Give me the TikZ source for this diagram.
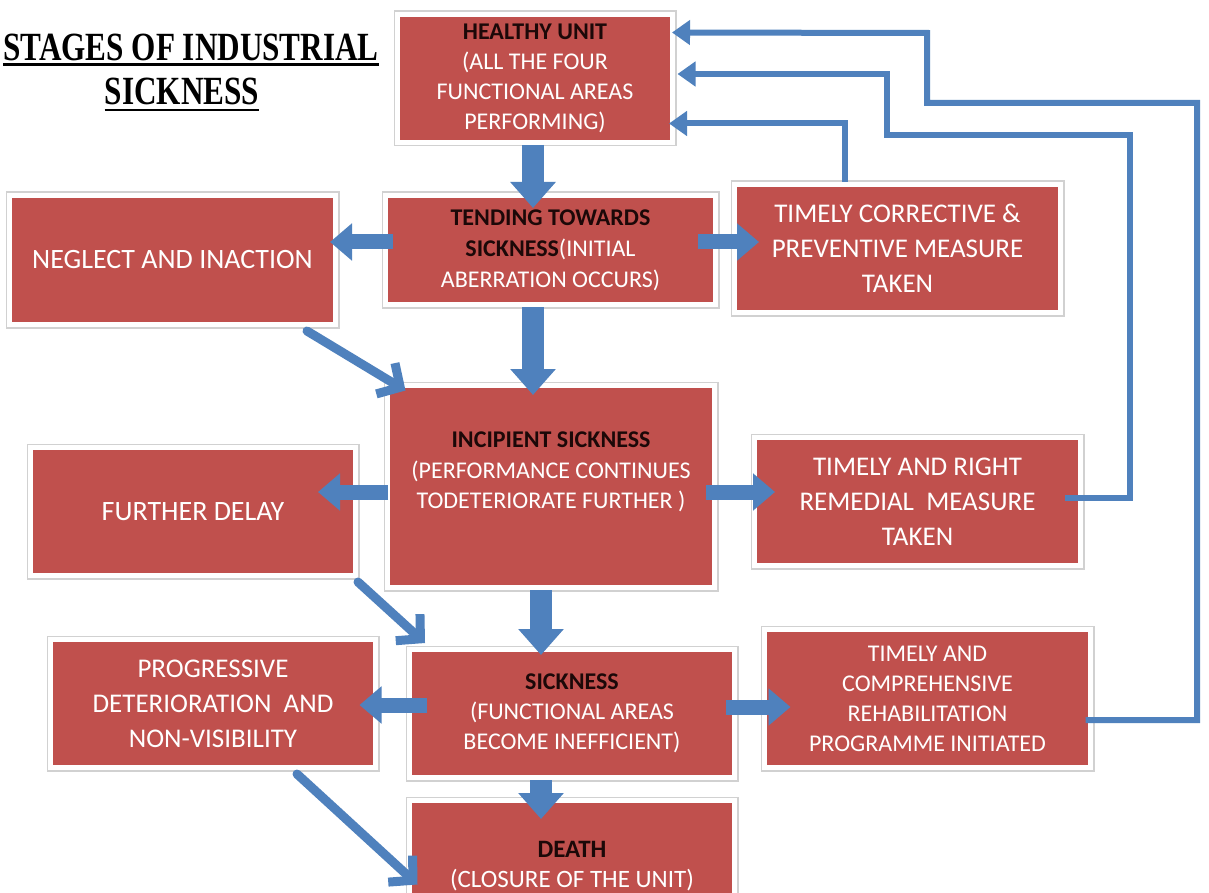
\documentclass[tikz,border=0pt]{standalone}
\usepackage{fontspec}
\setmainfont{Carlito}
\newfontfamily\titlefont[FakeStretch=0.78]{Liberation Serif}
\usetikzlibrary{arrows.meta,calc}
\definecolor{boxred}{HTML}{C0504D}
\definecolor{arrowblue}{HTML}{4F81BD}
\definecolor{textdark}{HTML}{1C0808}
\tikzset{
  box/.style={rectangle, fill=boxred, draw=white, line width=5pt,
    preaction={draw=black!18, line width=8pt}, text=white, align=center, inner sep=0pt},
  titletext/.style={font=\titlefont\bfseries\fontsize{40}{45}\selectfont, inner sep=0pt},
  mainarrow/.style={arrowblue, line width=22pt, -{Triangle[width=44pt,length=26pt]}},
  sidearrow/.style={arrowblue, line width=15pt, -{Triangle[width=36pt,length=22pt]}},
  slantarrow/.style={arrowblue, line width=9pt, line cap=round, -{Straight Barb[width=36pt,length=17pt]}},
  backline/.style={arrowblue, line width=6pt, -{Triangle[width=24pt,length=18pt]}},
}
\begin{document}
\begin{tikzpicture}[x=1pt,y=-1pt]
\useasboundingbox[fill=white] (0,0) rectangle (1209,893);

% title
\node[titletext, anchor=base west] (title1) at (3,61) {STAGES OF INDUSTRIAL};
\node[titletext, anchor=base] (title2) at (182,105) {SICKNESS};
\draw[line width=2.5pt] ($(title1.base west)+(0,3.5)$) -- ($(title1.base east)+(0,3.5)$);
\draw[line width=2.5pt] ($(title2.base west)+(0,5)$) -- ($(title2.base east)+(0,5)$);

% stages down the middle
\node[box, minimum width=275pt, minimum height=128pt, font=\fontsize{24}{30}\selectfont] (healthy) at (535,78.5)
  {{\bfseries\color{textdark}HEALTHY UNIT}\\(ALL THE FOUR\\FUNCTIONAL AREAS\\PERFORMING)};
\node[box, minimum width=330pt, minimum height=109pt, font=\fontsize{24}{31}\selectfont] (tending) at (550.5,250)
  {{\bfseries\color{textdark}TENDING TOWARDS}\\{\bfseries\color{textdark}SICKNESS}(INITIAL\\ABERRATION OCCURS)};
\node[box, minimum width=327pt, minimum height=202pt] (incipient) at (551,486.5) {};
\node[text=white, align=center, font=\fontsize{24}{30.5}\selectfont] (incipienttxt) at (551,472)
  {{\bfseries\color{textdark}INCIPIENT SICKNESS}\\(PERFORMANCE CONTINUES\\TODETERIORATE FURTHER )};
\node[box, minimum width=325pt, minimum height=128pt, font=\fontsize{24}{30}\selectfont] (sickness) at (572,713.5)
  {{\bfseries\color{textdark}SICKNESS}\\(FUNCTIONAL AREAS\\BECOME INEFFICIENT)};
\node[box, minimum width=325pt, minimum height=132pt, font=\fontsize{25}{30}\selectfont] (death) at (572,866.5)
  {{\bfseries\color{textdark}DEATH}\\(CLOSURE OF THE UNIT)};

% left side
\node[box, minimum width=326pt, minimum height=129pt, font=\fontsize{28}{34}\selectfont] (neglect) at (172.5,260)
  {NEGLECT AND INACTION};
\node[box, minimum width=325pt, minimum height=128pt, font=\fontsize{28}{34}\selectfont] (delay) at (193,511.5)
  {FURTHER DELAY};
\node[box, minimum width=325pt, minimum height=128pt, font=\fontsize{27}{35}\selectfont] (progressive) at (213,703.5)
  {PROGRESSIVE\\DETERIORATION~ AND\\NON-VISIBILITY};

% right side
\node[box, minimum width=326pt, minimum height=128pt, font=\fontsize{27}{35}\selectfont] (corrective) at (897.5,248.5)
  {TIMELY CORRECTIVE \&\\PREVENTIVE MEASURE\\TAKEN};
\node[box, minimum width=326pt, minimum height=128pt, font=\fontsize{27}{35}\selectfont] (remedial) at (917.5,501.5)
  {TIMELY AND RIGHT\\REMEDIAL~ MEASURE\\TAKEN};
\node[box, minimum width=326pt, minimum height=138pt, font=\fontsize{24}{30}\selectfont] (rehab) at (927.5,698.5)
  {TIMELY AND\\COMPREHENSIVE\\REHABILITATION\\PROGRAMME INITIATED};

% downward flow
\draw[mainarrow] ($(healthy.south)+(-2,0)$) -- ($(tending.north)+(-17.5,15)$);
\draw[mainarrow] ($(tending.south)+(-17.5,0)$) -- ($(incipient.north)+(-18,12)$);
\draw[mainarrow] ($(incipient.south)+(-10,0)$) -- ($(sickness.north)+(-31,8)$);
\draw[mainarrow] ($(sickness.south)+(-31,0)$) -- ($(death.north)+(-31,21)$);

% side branches
\draw[sidearrow] ($(tending.west)+(10,-8)$) -- ($(neglect.east)+(-8,-18)$);
\draw[sidearrow] ($(tending.east)+(-20,-8)$) -- ($(corrective.west)+(27,-6.5)$);
\draw[sidearrow] ($(incipient.west)+(3,5.5)$) -- ($(delay.east)+(-40,-19.5)$);
\draw[sidearrow] ($(incipient.east)+(-11,5.5)$) -- ($(remedial.east)+(-308,-9.5)$);
\draw[sidearrow] ($(sickness.west)+(20,-8.5)$) -- ($(progressive.east)+(-18.5,1.5)$);
\draw[sidearrow] ($(sickness.east)+(-11.5,-6.5)$) -- ($(rehab.west)+(28.5,8.5)$);

% drift to the next stage
\draw[slantarrow] ($(neglect.south)+(134.5,4)$) -- ($(incipient.north west)+(20.5,7.5)$);
\draw[slantarrow] ($(delay.south east)+(0,4)$) -- ($(sickness.north west)+(18,-4)$);
\draw[slantarrow] ($(progressive.south)+(84,4)$) -- ($(death.north west)+(10.5,86.5)$);

% back to a healthy unit
\draw[backline] ($(corrective.north)+(-52.5,0)$) |- ($(healthy.east)+(-6,45)$);
\draw[backline] ($(remedial.east)+(-18.5,-3.5)$) -| (1130,135) -| (887,74) -- ($(healthy.east)+(2.5,-4.5)$);
\draw[backline] ($(rehab.east)+(-7.5,21.5)$) -| (1197,103) -| (927,33) -- ($(healthy.east)+(-3,-46)$);
\end{tikzpicture}
\end{document}
